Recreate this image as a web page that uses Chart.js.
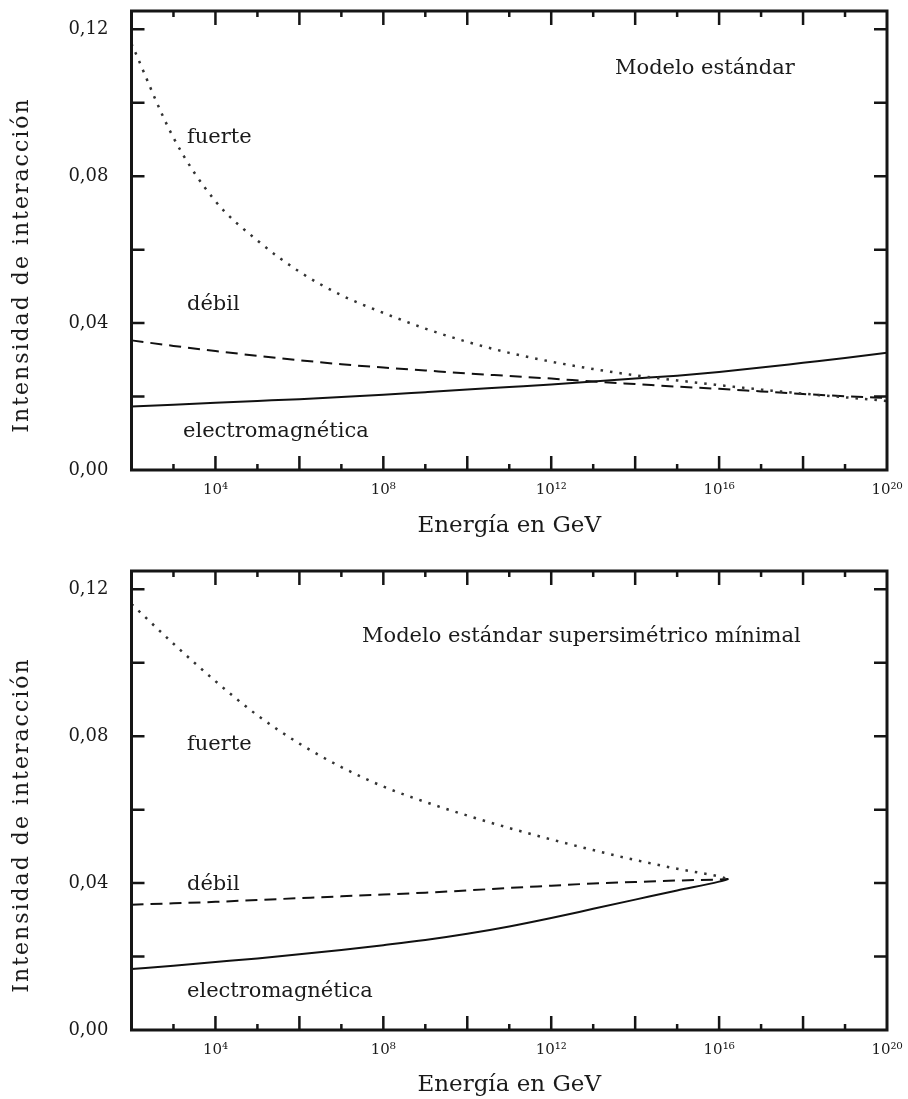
<!DOCTYPE html>
<html>
<head>
<meta charset="utf-8">
<script src="https://cdn.jsdelivr.net/npm/chart.js@4.4.1/dist/chart.umd.min.js"></script>
<style>
  html, body { margin: 0; padding: 0; background: #fff; overflow: hidden; }
  canvas { position: absolute; left: 0; }
  #chartSM { top: 0; }
  #chartMSSM { top: 560px; }
</style>
</head>
<body>
<canvas id="chartSM" width="908" height="560"></canvas>
<canvas id="chartMSSM" width="908" height="539"></canvas>
<script>
// energy in GeV (log axis)
const energySM = [1e2, 1e3, 1e4, 1e5, 1e6, 1e7, 1e8, 1e9, 1e10, 1e11, 1e12,
                  1e13, 1e14, 1e15, 1e16, 1e17, 1e18, 1e19, 1e20];
const fuerteSM = [0.1161, 0.0905, 0.0732, 0.0625, 0.0540, 0.0476, 0.0428, 0.0385, 0.0349, 0.0319,
                  0.0295, 0.0275, 0.0258, 0.0244, 0.0231, 0.0219, 0.0208, 0.0198, 0.0188];
const debilSM  = [0.0353, 0.0338, 0.0324, 0.0311, 0.0299, 0.0288, 0.0279, 0.0271, 0.0263, 0.0256,
                  0.0249, 0.0241, 0.0234, 0.0227, 0.0221, 0.0214, 0.0207, 0.0201, 0.0196];
const emSM     = [0.0173, 0.0178, 0.0183, 0.0188, 0.0193, 0.0199, 0.0205, 0.0212, 0.0219, 0.0226,
                  0.0233, 0.0241, 0.0249, 0.0257, 0.0267, 0.0279, 0.0292, 0.0305, 0.0319];

const energyMSSM = [1e2, 1e3, 1e4, 1e5, 1e6, 1e7, 1e8, 1e9, 1e10, 1e11, 1e12,
                    1e13, 1e14, 1e15, 1e16, 1.66e16];
const fuerteMSSM = [0.1160, 0.1052, 0.0950, 0.0857, 0.0780, 0.0716, 0.0663, 0.0621, 0.0584, 0.0550,
                    0.0519, 0.0490, 0.0463, 0.0439, 0.0418, 0.0411];
const debilMSSM  = [0.0341, 0.0345, 0.0349, 0.0354, 0.0359, 0.0364, 0.0369, 0.0374, 0.0380, 0.0387,
                    0.0393, 0.0399, 0.0403, 0.0407, 0.0410, 0.0411];
const emMSSM     = [0.0166, 0.0175, 0.0185, 0.0195, 0.0206, 0.0218, 0.0231, 0.0245, 0.0262, 0.0282,
                    0.0305, 0.0330, 0.0355, 0.0380, 0.0404, 0.0411];

// axis ticks
const xTickValues = [1e4, 1e8, 1e12, 1e16, 1e20];
const xTickLabels = ['10⁴', '10⁸', '10¹²', '10¹⁶', '10²⁰'];
const xLongTicks  = [1e4, 1e6, 1e8, 1e10, 1e12, 1e14, 1e16, 1e18];
const xShortTicks = [1e3, 1e5, 1e7, 1e9, 1e11, 1e13, 1e15, 1e17, 1e19];
const yTickValues = [0, 0.04, 0.08, 0.12];
const yTickLabels = ['0,00', '0,04', '0,08', '0,12'];
const yFrameTicks = [0.02, 0.04, 0.06, 0.08, 0.10, 0.12];
const yTitle = 'Intensidad de interacción';

Chart.defaults.font.family = '"DejaVu Serif", serif';
Chart.defaults.color = '#1a1a1a';

// frame box, inward tick marks, y title and the text notes
const frameNotes = {
    id: 'frameNotes',
    afterDraw(chart, args, opts) {
        const ctx = chart.ctx;
        const a = chart.chartArea;
        const x = chart.scales.x, y = chart.scales.y;
        ctx.save();
        ctx.strokeStyle = '#151515';
        ctx.lineWidth = 2.5;
        ctx.beginPath();
        xLongTicks.forEach(v => {
            const px = x.getPixelForValue(v);
            ctx.moveTo(px, a.bottom); ctx.lineTo(px, a.bottom - 14);
            ctx.moveTo(px, a.top);    ctx.lineTo(px, a.top + 14);
        });
        xShortTicks.forEach(v => {
            const px = x.getPixelForValue(v);
            ctx.moveTo(px, a.bottom); ctx.lineTo(px, a.bottom - 6);
            ctx.moveTo(px, a.top);    ctx.lineTo(px, a.top + 6);
        });
        yFrameTicks.forEach(v => {
            const py = y.getPixelForValue(v);
            ctx.moveTo(a.left, py);  ctx.lineTo(a.left + 13, py);
            ctx.moveTo(a.right, py); ctx.lineTo(a.right - 13, py);
        });
        ctx.stroke();
        ctx.lineWidth = 3;
        ctx.strokeRect(a.left, a.top, a.right - a.left, a.bottom - a.top);

        ctx.fillStyle = '#1a1a1a';
        ctx.font = '21px "DejaVu Serif"';
        ctx.textBaseline = 'alphabetic';
        opts.notes.forEach(n => ctx.fillText(n.text, n.x, n.y));

        // rotated y axis title, a little below the middle like the original
        ctx.translate(22, 265);
        ctx.rotate(-Math.PI / 2);
        ctx.font = '22px "DejaVu Serif"';
        ctx.letterSpacing = '2px';
        ctx.textAlign = 'center';
        ctx.textBaseline = 'middle';
        ctx.fillText(yTitle, 0, 0);
        ctx.restore();
    }
};

function makeChart(id, energy, fuerte, debil, em, notes, xHeight, titlePad) {
    const pts = arr => energy.map((e, i) => ({x: e, y: arr[i]}));
    const line = {pointRadius: 0, fill: false, cubicInterpolationMode: 'monotone', borderColor: '#111'};
    return new Chart(document.getElementById(id), {
        type: 'line',
        data: {
            datasets: [
                Object.assign({}, line, {label: 'fuerte', data: pts(fuerte), borderWidth: 2.5,
                    borderDash: [2.5, 7], borderColor: '#333'}),
                Object.assign({}, line, {label: 'débil', data: pts(debil), borderWidth: 2,
                    borderDash: [12, 7]}),
                Object.assign({}, line, {label: 'electromagnética', data: pts(em), borderWidth: 2})
            ]
        },
        options: {
            responsive: false,
            animation: false,
            devicePixelRatio: 1,
            layout: {padding: {left: 0, right: 21, top: 11, bottom: 0}},
            plugins: {
                legend: {display: false},
                tooltip: {enabled: false},
                frameNotes: {notes: notes}
            },
            scales: {
                x: {
                    type: 'logarithmic',
                    min: 1e2, max: 1e20,
                    grid: {display: false, drawTicks: false},
                    border: {display: false},
                    afterBuildTicks: s => { s.ticks = xTickValues.map(v => ({value: v})); },
                    afterFit: s => { s.height = xHeight; s.paddingLeft = 0; s.paddingRight = 0; },
                    ticks: {
                        autoSkip: false, maxRotation: 0, padding: 11,
                        font: {size: 15},
                        callback: (v, i) => xTickLabels[i]
                    },
                    title: {display: true, text: 'Energía en GeV', font: {size: 23},
                            padding: {top: 0, bottom: titlePad}}
                },
                y: {
                    min: 0, max: 0.125,
                    grid: {display: false, drawTicks: false},
                    border: {display: false},
                    afterBuildTicks: s => { s.ticks = yTickValues.map(v => ({value: v})); },
                    afterFit: s => { s.width = 131.5; s.paddingTop = 0; s.paddingBottom = 0; },
                    ticks: {
                        padding: 23,
                        font: {size: 18},
                        callback: (v, i) => yTickLabels[i]
                    }
                }
            }
        },
        plugins: [frameNotes]
    });
}

makeChart('chartSM', energySM, fuerteSM, debilSM, emSM, [
    {text: 'Modelo estándar', x: 615, y: 74},
    {text: 'fuerte', x: 187, y: 143},
    {text: 'débil', x: 187, y: 310},
    {text: 'electromagnética', x: 183, y: 437}
], 90, 20);

makeChart('chartMSSM', energyMSSM, fuerteMSSM, debilMSSM, emMSSM, [
    {text: 'Modelo estándar supersimétrico mínimal', x: 362, y: 82},
    {text: 'fuerte', x: 187, y: 190},
    {text: 'débil', x: 187, y: 330},
    {text: 'electromagnética', x: 187, y: 437}
], 69, 0);
</script>
</body>
</html>
